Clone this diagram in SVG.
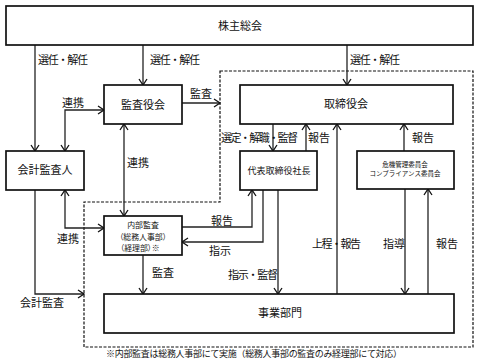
<svg xmlns="http://www.w3.org/2000/svg" width="480" height="363" viewBox="0 0 480 363">
<defs>
<marker id="ah" viewBox="-8 -5 10 10" markerWidth="10" markerHeight="10" refX="0" refY="0" orient="auto-start-reverse" markerUnits="userSpaceOnUse">
<path d="M-6,-4 L0,0 L-6,4" fill="none" stroke="#111" stroke-width="1.3"/>
</marker>
<style>
.box{fill:#fff;stroke:#111;stroke-width:1.7}
.ln{fill:none;stroke:#222;stroke-width:1.3}
.dash{fill:none;stroke:#111;stroke-width:1.2;stroke-dasharray:3 1.5}
text{font-family:"Noto Sans CJK JP","Noto Sans",sans-serif;fill:#111}
.t{font-size:11px}
.c{text-anchor:middle}
.s{font-size:9px}
.ia{font-size:7.9px}
.xs{font-size:6.5px}
.p{font-feature-settings:"palt"}
</style>
</defs>
<rect width="480" height="363" fill="#fff"/>
<polygon class="dash" points="220,71 473,71 473,347 84,347 84,202 220,202"/>

<g id="connectors">
<path class="ln" d="M35,45 V151" marker-end="url(#ah)"/>
<path class="ln" d="M143,45 V85" marker-end="url(#ah)"/>
<path class="ln" d="M347,45 V85" marker-end="url(#ah)"/>
<path class="ln" d="M182,103 H220" marker-end="url(#ah)"/>
<path class="ln" d="M65,151 V110 H104" marker-start="url(#ah)" marker-end="url(#ah)"/>
<path class="ln" d="M65,190 V228 H104" marker-start="url(#ah)" marker-end="url(#ah)"/>
<path class="ln" d="M124,124 V216" marker-start="url(#ah)" marker-end="url(#ah)"/>
<path class="ln" d="M273,124 V151" marker-end="url(#ah)"/>
<path class="ln" d="M306,151 V124" marker-end="url(#ah)"/>
<path class="ln" d="M404,151 V124" marker-end="url(#ah)"/>
<path class="ln" d="M182,227 H252 V190" marker-end="url(#ah)"/>
<path class="ln" d="M263,190 V242 H182" marker-end="url(#ah)"/>
<path class="ln" d="M278,190 V294" marker-end="url(#ah)"/>
<path class="ln" d="M337,294 V124" marker-end="url(#ah)"/>
<path class="ln" d="M405,189 V294" marker-end="url(#ah)"/>
<path class="ln" d="M428,294 V189" marker-end="url(#ah)"/>
<path class="ln" d="M143,255 V294" marker-end="url(#ah)"/>
<path class="ln" d="M35,190 V294 H84" marker-end="url(#ah)"/>
<text class="t" x="38" y="64" textLength="50">選任・解任</text>
<text class="t" x="150" y="64" textLength="50">選任・解任</text>
<text class="t" x="350" y="64" textLength="50">選任・解任</text>
<text class="t" x="190" y="98">監査</text>
<text class="t" x="62" y="107">連携</text>
<text class="t" x="127" y="167">連携</text>
<text class="t" x="221" y="142" textLength="77">選定・解職・監督</text>
<text class="t" x="308" y="142">報告</text>
<text class="t" x="412" y="142">報告</text>
<text class="t" x="211" y="225">報告</text>
<text class="t" x="209" y="255">指示</text>
<text class="t" x="57" y="243">連携</text>
<text class="t" x="152" y="277">監査</text>
<text class="t" x="20" y="307">会計監査</text>
<text class="t" x="228" y="279" textLength="50">指示・監督</text>
<text class="t" x="312" y="248" textLength="49">上程・報告</text>
<text class="t" x="383" y="248">指導</text>
<text class="t" x="436" y="248">報告</text>
</g>

<g id="shareholders">
<rect class="box" x="6" y="6" width="467" height="39"/>
<text class="t c" x="240" y="30">株主総会</text>
</g>
<g id="auditboard">
<rect class="box" x="104" y="85" width="78" height="39"/>
<text class="t c" x="143" y="109">監査役会</text>
</g>
<g id="board">
<rect class="box" x="240" y="85" width="213" height="39"/>
<text class="t c" x="346" y="108">取締役会</text>
</g>
<g id="accountingauditor">
<rect class="box" x="6" y="151" width="78" height="39"/>
<text class="t c" x="45" y="174">会計監査人</text>
</g>
<g id="president">
<rect class="box" x="240" y="151" width="77" height="39"/>
<text class="s c" x="279" y="174">代表取締役社長</text>
</g>
<g id="committees">
<rect class="box" x="357" y="151" width="97" height="38"/>
<text class="xs c" x="405" y="166.5">危機管理委員会</text>
<text class="xs c" x="405" y="175.8">コンプライアンス委員会</text>
</g>
<g id="internalaudit">
<rect class="box" x="104" y="216" width="78" height="39"/>
<text class="ia c" x="143" y="228.2">内部監査</text>
<text class="ia c p" x="143" y="239.7">（総務人事部）</text>
<text class="ia c p" x="140" y="251.2">（経理部）※</text>
</g>
<g id="business">
<rect class="box" x="104" y="294" width="350" height="39"/>
<text class="t c" x="280" y="317">事業部門</text>
</g>
<text class="s" x="106" y="357" textLength="296">※内部監査は総務人事部にて実施（総務人事部の監査のみ経理部にて対応）</text>
</svg>
